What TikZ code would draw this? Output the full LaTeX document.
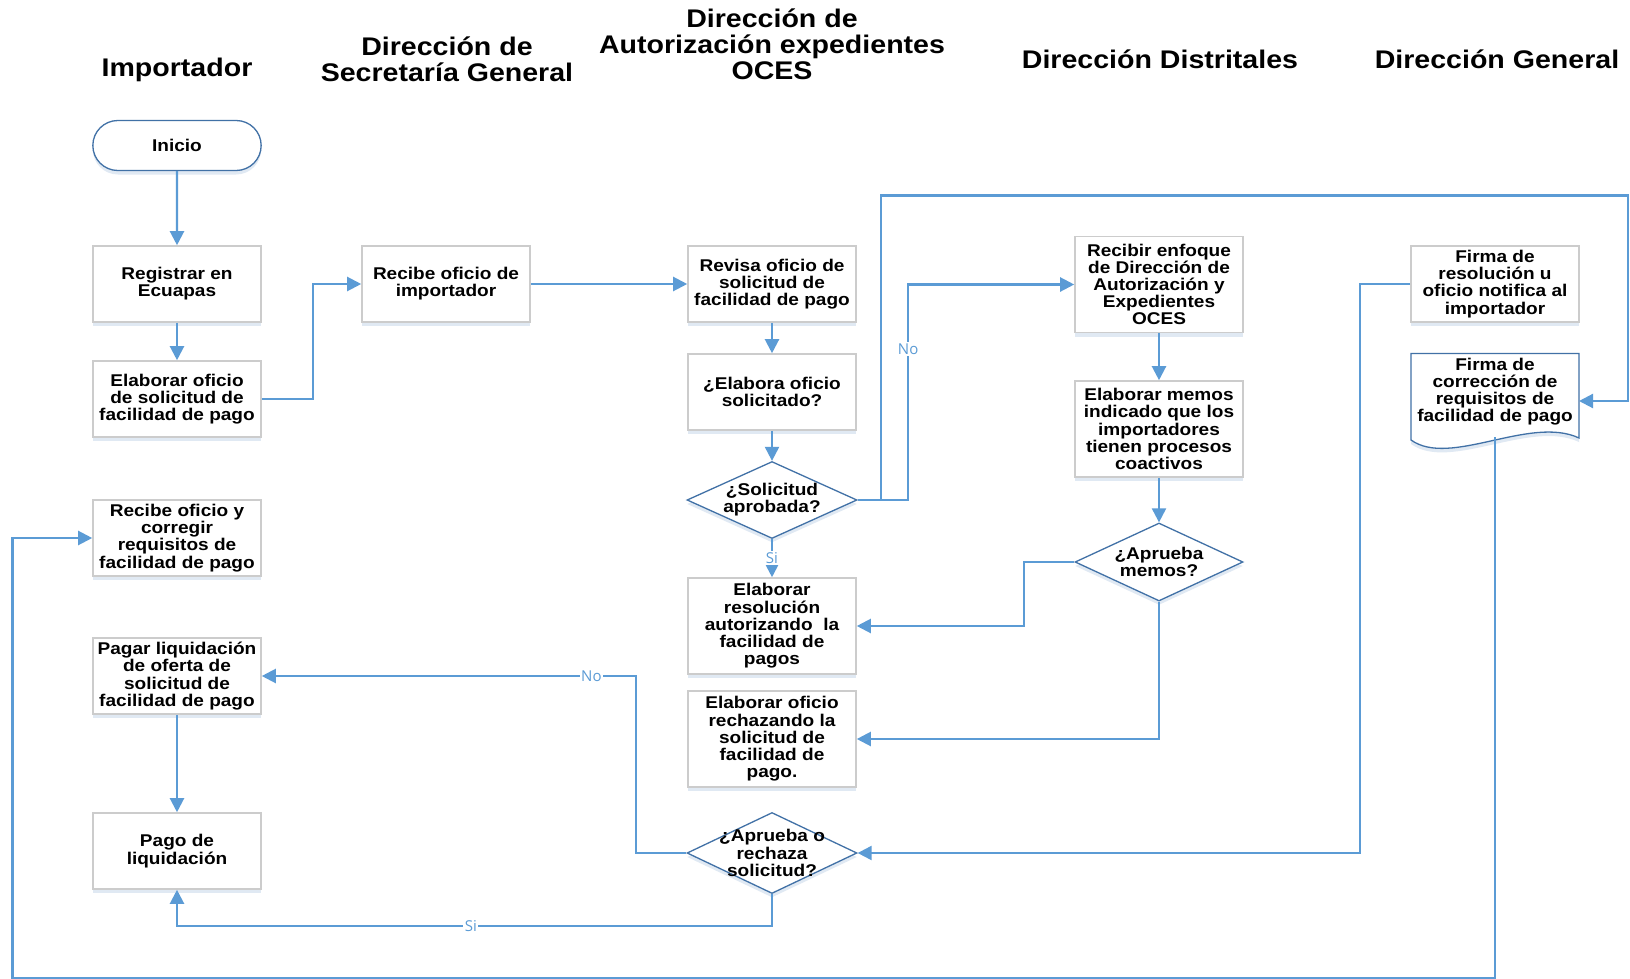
\documentclass[tikz,border=0pt]{standalone}
\usepackage{fontspec}
\setmainfont{Liberation Sans}[FakeStretch=1.12]
\newfontfamily\lblfamily{Open Sans}
\usetikzlibrary{arrows.meta,shapes.geometric,shapes.misc,shadows}
\definecolor{lineblue}{RGB}{91,155,213}
\definecolor{shapeblue}{RGB}{65,113,166}
\definecolor{boxgray}{RGB}{204,204,204}
\definecolor{shadowblue}{RGB}{178,200,226}
\newcommand\boxtext{\fontsize{17}{17.2}\selectfont\bfseries}
\newcommand\headtext{\fontsize{25.5}{26}\selectfont\bfseries}
\newcommand\lbltext{\lblfamily\fontsize{15}{15}\selectfont}
\begin{document}
\begin{tikzpicture}[x=1pt,y=-1pt,
  softshadow/.style={drop shadow={shadow xshift=0pt,shadow yshift=-4pt,opacity=0.4,fill=shadowblue}},
  proc/.style={draw=boxgray,line width=1.6pt,fill=white,minimum width=168pt,minimum height=76pt,
    inner sep=2pt,align=center,font=\boxtext,softshadow},
  tallproc/.style={proc,minimum height=96pt},
  dia/.style={diamond,draw=shapeblue,line width=1.3pt,fill=white,minimum width=170pt,
    minimum height=78pt,inner sep=0pt,softshadow},
  diatext/.style={align=center,font=\boxtext,inner sep=0pt},
  term/.style={rounded rectangle,draw=shapeblue,line width=1.3pt,fill=white,minimum width=175pt,
    minimum height=50pt,font=\boxtext,softshadow},
  head/.style={align=center,font=\headtext},
  conn/.style={draw=lineblue,line width=2.2pt,-{Triangle[length=14pt,width=14pt]}},
  lbl/.style={fill=white,text=lineblue,font=\lbltext,inner sep=1.5pt}]
\useasboundingbox (0,0) rectangle (1630,979);
\fill[white] (0,0) rectangle (1630,979);

% lane headings
\node[head] (hImp) at (177,70) {Importador};
\node[head] (hSec) at (447,59) {Dirección de\\Secretaría General};
\node[head] (hOce) at (772,44) {Dirección de\\Autorización expedientes\\OCES};
\node[head] (hDis) at (1160,59) {Dirección Distritales};
\node[head] (hGen) at (1497,59) {Dirección General};

% Importador
\node[term] (inicio) at (177,145.5) {Inicio};
\node[proc] (reg) at (177,284) {Registrar en\\Ecuapas};
\node[proc] (elab) at (177,399) {Elaborar oficio\\de solicitud de\\facilidad de pago};
\node[proc] (corrige) at (177,538) {Recibe oficio y\\corregir\\requisitos de\\facilidad de pago};
\node[proc] (pagar) at (177,676) {Pagar liquidación\\de oferta de\\solicitud de\\facilidad de pago};
\node[proc] (pago) at (177,851) {Pago de\\liquidación};

% Secretaría General
\node[proc] (recimp) at (446,284) {Recibe oficio de\\importador};

% Autorización expedientes OCES
\node[proc] (revisa) at (772,284) {Revisa oficio de\\solicitud de\\facilidad de pago};
\node[proc] (elabq) at (772,392) {¿Elabora oficio\\solicitado?};
\node[dia,minimum height=77pt] (solap) at (772,500) {};
\node[diatext] at (solap) {¿Solicitud\\aprobada?};
\node[tallproc] (resol) at (772,626) {Elaborar\\resolución\\autorizando\ \ la\\facilidad de\\pagos};
\node[tallproc] (rech) at (772,739) {Elaborar oficio\\rechazando la\\solicitud de\\facilidad de\\pago.};
\node[dia,minimum height=81pt] (aprech) at (772,853) {};
\node[diatext] at (aprech) {¿Aprueba o\\rechaza\\solicitud?};

% Distritales
\node[tallproc] (enfoque) at (1159,284.5) {Recibir enfoque\\de Dirección de\\Autorización y\\Expedientes\\OCES};
\node[tallproc] (memos) at (1159,429) {Elaborar memos\\indicado que los\\importadores\\tienen procesos\\coactivos};
\node[dia,minimum width=168pt] (apmemos) at (1159,562) {};
\node[diatext] at (apmemos) {¿Aprueba\\memos?};

% Dirección General
\node[proc] (firmares) at (1495,284) {Firma de\\resolución u\\oficio notifica al\\importador};
\fill[shadowblue,opacity=0.4] (1411,357.4) -- (1579,357.4) -- (1579,442)
  .. controls (1530,419) and (1450,472) .. (1411,444) -- cycle;
\draw[shapeblue,line width=1.3pt,fill=white] (1411,353.4) -- (1579,353.4) -- (1579,438)
  .. controls (1530,415) and (1450,468) .. (1411,440) -- cycle;
\node[diatext] (firmacor) at (1495,391.5) {Firma de\\corrección de\\requisitos de\\facilidad de pago};
\coordinate (docR) at (1579,401);
\coordinate (docB) at (1495,437);

% connectors
\draw[conn] (inicio) -- (reg);
\draw[conn] (reg) -- (elab);
\draw[conn] (elab.east) -- ++(51,0) |- (recimp.west);
\draw[conn] (recimp) -- (revisa);
\draw[conn] (revisa) -- (elabq);
\draw[conn] (elabq) -- (solap);
\draw[conn] (solap.east) -- ++(23,0) |- (1628,195.4) |- (docR);
\draw[conn] (solap.east) -- ++(50.5,0) |- node[lbl,pos=0.35]{No} (enfoque.west);
\draw[conn] (solap) -- node[lbl]{Si} (resol);
\draw[conn] (enfoque) -- (memos);
\draw[conn] (memos) -- (apmemos);
\draw[conn] (apmemos.west) -- ++(-50,0) |- (resol.east);
\draw[conn] (apmemos.south) |- (rech.east);
\draw[conn] (firmares.west) -- ++(-50,0) |- (aprech.east);
\draw[conn] (aprech.west) -- ++(-50,0) |- node[lbl,pos=0.56]{No} (pagar.east);
\draw[conn] (aprech.south) -- ++(0,32) -| node[lbl,pos=0.253]{Si} (pago.south);
\draw[conn] (pagar) -- (pago);
\draw[conn] (docB) -- (1495,978.5) -| (12.5,538) -- (corrige.west);
\end{tikzpicture}
\end{document}
